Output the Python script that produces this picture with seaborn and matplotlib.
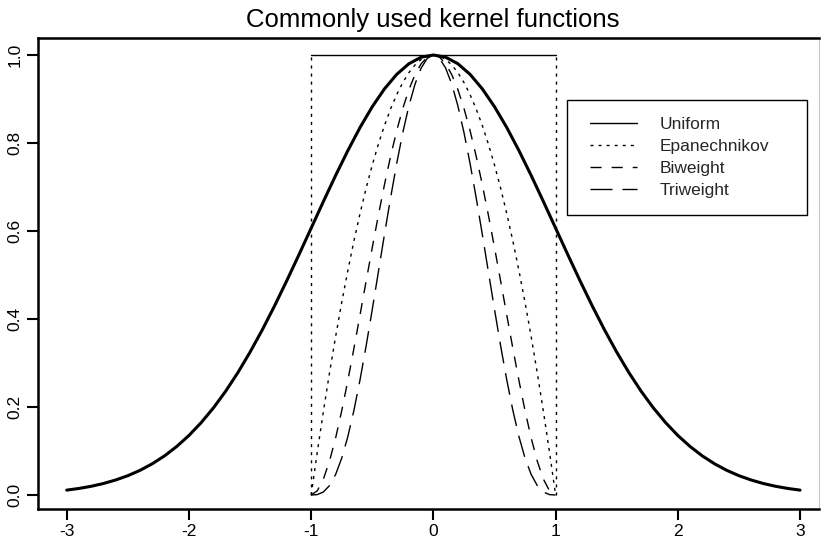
import matplotlib
matplotlib.use("Agg")
import matplotlib.pyplot as plt
from matplotlib.patches import Rectangle
import seaborn as sns
import pandas as pd

# Kernel grid on the support [-1, 1]
kernel_x = [-1.00, -0.95, -0.90, -0.85, -0.80, -0.75, -0.70, -0.65, -0.60, -0.55, -0.50,
            -0.45, -0.40, -0.35, -0.30, -0.25, -0.20, -0.15, -0.10, -0.05, 0.00,
            0.05, 0.10, 0.15, 0.20, 0.25, 0.30, 0.35, 0.40, 0.45, 0.50,
            0.55, 0.60, 0.65, 0.70, 0.75, 0.80, 0.85, 0.90, 0.95, 1.00]

uniform_x = [-1.0, 1.0]
uniform_y = [1.0, 1.0]

epanechnikov_y = [0.0000, 0.0975, 0.1900, 0.2775, 0.3600, 0.4375, 0.5100, 0.5775, 0.6400, 0.6975, 0.7500,
                  0.7975, 0.8400, 0.8775, 0.9100, 0.9375, 0.9600, 0.9775, 0.9900, 0.9975, 1.0000,
                  0.9975, 0.9900, 0.9775, 0.9600, 0.9375, 0.9100, 0.8775, 0.8400, 0.7975, 0.7500,
                  0.6975, 0.6400, 0.5775, 0.5100, 0.4375, 0.3600, 0.2775, 0.1900, 0.0975, 0.0000]

biweight_y = [0.0000, 0.0095, 0.0361, 0.0770, 0.1296, 0.1914, 0.2601, 0.3335, 0.4096, 0.4865, 0.5625,
              0.6360, 0.7056, 0.7700, 0.8281, 0.8789, 0.9216, 0.9555, 0.9801, 0.9950, 1.0000,
              0.9950, 0.9801, 0.9555, 0.9216, 0.8789, 0.8281, 0.7700, 0.7056, 0.6360, 0.5625,
              0.4865, 0.4096, 0.3335, 0.2601, 0.1914, 0.1296, 0.0770, 0.0361, 0.0095, 0.0000]

triweight_y = [0.0000, 0.0009, 0.0069, 0.0214, 0.0467, 0.0837, 0.1327, 0.1926, 0.2621, 0.3393, 0.4219,
               0.5072, 0.5927, 0.6757, 0.7536, 0.8240, 0.8847, 0.9340, 0.9703, 0.9925, 1.0000,
               0.9925, 0.9703, 0.9340, 0.8847, 0.8240, 0.7536, 0.6757, 0.5927, 0.5072, 0.4219,
               0.3393, 0.2621, 0.1926, 0.1327, 0.0837, 0.0467, 0.0214, 0.0069, 0.0009, 0.0000]

# Gaussian kernel (unnormalised) on [-3, 3]
gauss_x = [-3.0, -2.9, -2.8, -2.7, -2.6, -2.5, -2.4, -2.3, -2.2, -2.1, -2.0,
           -1.9, -1.8, -1.7, -1.6, -1.5, -1.4, -1.3, -1.2, -1.1, -1.0,
           -0.9, -0.8, -0.7, -0.6, -0.5, -0.4, -0.3, -0.2, -0.1, 0.0,
           0.1, 0.2, 0.3, 0.4, 0.5, 0.6, 0.7, 0.8, 0.9, 1.0,
           1.1, 1.2, 1.3, 1.4, 1.5, 1.6, 1.7, 1.8, 1.9, 2.0,
           2.1, 2.2, 2.3, 2.4, 2.5, 2.6, 2.7, 2.8, 2.9, 3.0]
gauss_y = [0.0111, 0.0149, 0.0198, 0.0261, 0.0341, 0.0439, 0.0561, 0.0710, 0.0889, 0.1103, 0.1353,
           0.1645, 0.1979, 0.2357, 0.2780, 0.3247, 0.3753, 0.4296, 0.4868, 0.5461, 0.6065,
           0.6670, 0.7262, 0.7827, 0.8353, 0.8825, 0.9231, 0.9560, 0.9802, 0.9950, 1.0000,
           0.9950, 0.9802, 0.9560, 0.9231, 0.8825, 0.8353, 0.7827, 0.7262, 0.6670, 0.6065,
           0.5461, 0.4868, 0.4296, 0.3753, 0.3247, 0.2780, 0.2357, 0.1979, 0.1645, 0.1353,
           0.1103, 0.0889, 0.0710, 0.0561, 0.0439, 0.0341, 0.0261, 0.0198, 0.0149, 0.0111]

x_ticks = [-3, -2, -1, 0, 1, 2, 3]
x_tick_labels = ["-3", "-2", "-1", "0", "1", "2", "3"]
y_ticks = [0.0, 0.2, 0.4, 0.6, 0.8, 1.0]
y_tick_labels = ["0.0", "0.2", "0.4", "0.6", "0.8", "1.0"]

title = "Commonly used kernel functions"
legend_labels = ["Uniform", "Epanechnikov", "Biweight", "Triweight"]

sns.set_theme(style="white")
plt.rcParams["font.family"] = ["Liberation Sans", "DejaVu Sans"]
plt.rcParams["lines.scale_dashes"] = False

W, H = 828, 546
fig = plt.figure(figsize=(W / 100, H / 100), dpi=100)
ax = fig.add_axes([38 / W, 37 / H, 781 / W, 471 / H])

dotted = (0, (2.2, 3.6))
dashed = (0, (8.0, 7.2))
longdash = (0, (15.8, 7.2))

kern = pd.DataFrame({"x": kernel_x, "epa": epanechnikov_y,
                     "bi": biweight_y, "tri": triweight_y})
gauss = pd.DataFrame({"x": gauss_x, "y": gauss_y})
unif = pd.DataFrame({"x": uniform_x, "y": uniform_y})

sns.lineplot(data=unif, x="x", y="y", ax=ax, color="black", lw=1.0,
             estimator=None, sort=False, label=legend_labels[0])
sns.lineplot(data=kern, x="x", y="epa", ax=ax, color="black", lw=1.0,
             linestyle=dotted, estimator=None, sort=False, label=legend_labels[1])
sns.lineplot(data=kern, x="x", y="bi", ax=ax, color="black", lw=1.0,
             linestyle=dashed, estimator=None, sort=False, label=legend_labels[2])
sns.lineplot(data=kern, x="x", y="tri", ax=ax, color="black", lw=1.0,
             linestyle=longdash, estimator=None, sort=False, label=legend_labels[3])
sns.lineplot(data=gauss, x="x", y="y", ax=ax, color="black", lw=2.2,
             estimator=None, sort=False)

# Vertical edges of the uniform box
ax.vlines(uniform_x, 0, uniform_y, colors="black", lw=1.0, linestyles=[dotted])

ax.set_xlim(-3.235, 3.155)
ax.set_ylim(-0.0318, 1.0386)
ax.set_xticks(x_ticks)
ax.set_xticklabels(x_tick_labels)
ax.set_yticks(y_ticks)
ax.set_yticklabels(y_tick_labels, rotation=90, va="center")
ax.set_xlabel("")
ax.set_ylabel("")
ax.tick_params(axis="both", which="major", direction="out", length=8, width=1.5,
               labelsize=12.5, color="black", labelcolor="black",
               bottom=True, left=True)
ax.tick_params(axis="x", pad=3)
ax.tick_params(axis="y", pad=3)

for side in ["left", "bottom", "top"]:
    ax.spines[side].set_color("black")
    ax.spines[side].set_linewidth(1.8)
ax.spines["right"].set_color("#c8c8c8")
ax.spines["right"].set_linewidth(0.8)

# Legend entries without their own frame; the box is drawn separately
leg = ax.legend(loc="upper left",
                bbox_to_anchor=(590 / W, 1 - 117 / H),
                bbox_transform=fig.transFigure,
                fontsize=12.5, frameon=False, borderpad=0, labelspacing=0.39,
                handlelength=2.7, handletextpad=1.3, borderaxespad=0)
fig.patches.append(Rectangle((567 / W, 1 - 215 / H), 240 / W, 115 / H,
                             transform=fig.transFigure, fill=False,
                             edgecolor="black", lw=1.0, zorder=3))

fig.text(433 / W, 1 - 27 / H, title, ha="center", va="baseline",
         fontsize=18.5, color="black")

fig.savefig("out.png", dpi=100)
